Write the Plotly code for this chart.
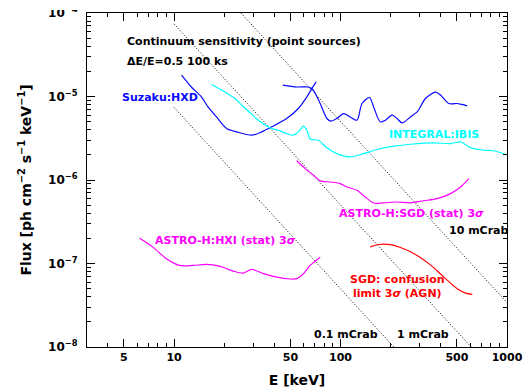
import plotly.graph_objects as go

# ---------------- data ----------------
hxd_pin_e = [11.1, 12.7, 14.6, 16.0, 18.0, 20.7, 23.8, 29.3, 33.6, 38.6, 47.5, 55.8, 62.8, 67.3, 71.4]
hxd_pin_f = [1.80e-5, 1.30e-5, 9.9e-6, 7.5e-6, 5.69e-6, 4.13e-6, 3.77e-6, 3.44e-6, 3.77e-6, 4.33e-6,
             5.45e-6, 7.18e-6, 9.9e-6, 1.25e-5, 1.50e-5]

hxd_gso_e = [45.0, 54.6, 64.2, 68.2, 75.5, 82.8, 87.5, 95.1, 104.3, 114.4, 125.6, 134.6, 149.5, 158.1,
             173.4, 185.9, 204, 218.7, 234.4, 263, 288.5, 323.7, 372, 398.7, 447.3, 502.6, 526, 577]
hxd_gso_f = [1.37e-5, 1.30e-5, 1.30e-5, 1.21e-5, 8.24e-6, 5.45e-6, 5.06e-6, 5.45e-6, 6.25e-6, 5.69e-6,
             5.20e-6, 8.24e-6, 9.72e-6, 7.5e-6, 4.96e-6, 5.20e-6, 5.97e-6, 5.45e-6, 4.82e-6, 5.69e-6,
             6.53e-6, 9.46e-6, 1.13e-5, 1.04e-5, 8.24e-6, 8.24e-6, 8.09e-6, 7.71e-6]

ibis_e = [16.8, 20.2, 23.2, 25.5, 28.6, 32.1, 37.7, 43.3, 47.5, 52.1, 55.8, 59.9, 62.8, 65.7, 73.7,
          82.8, 95.1, 114.4, 137.6, 165.7, 208.6, 263, 363.2, 458, 526, 604, 727, 835, 982]
ibis_f = [1.39e-5, 1.13e-5, 9.46e-6, 7.87e-6, 6.40e-6, 5.20e-6, 4.23e-6, 3.87e-6, 3.60e-6, 3.44e-6,
          3.77e-6, 4.43e-6, 3.95e-6, 3.10e-6, 2.99e-6, 2.43e-6, 2.07e-6, 1.89e-6, 2.07e-6, 2.32e-6,
          2.54e-6, 2.68e-6, 2.78e-6, 2.73e-6, 2.86e-6, 2.44e-6, 2.27e-6, 2.24e-6, 2.02e-6]

sgd_e = [54.6, 61.3, 68.8, 75.5, 86.7, 99.6, 109.3, 125.6, 140.9, 158.1, 181.6, 218.7, 263, 316.2,
         380.8, 458, 526, 590]
sgd_f = [1.70e-6, 1.37e-6, 1.14e-6, 9.77e-7, 9.46e-7, 9.05e-7, 8.24e-7, 7.53e-7, 6.25e-7, 5.30e-7,
         5.33e-7, 5.45e-7, 5.33e-7, 5.64e-7, 5.98e-7, 6.87e-7, 8.24e-7, 1.04e-6]

hxi_e = [6.21, 7.47, 9.0, 10.8, 13.0, 15.7, 18.9, 22.7, 26.0, 29.3, 34.4, 39.5, 47.5, 54.6, 59.9, 65.7, 75.5]
hxi_f = [2.00e-7, 1.57e-7, 1.14e-7, 9.48e-8, 9.48e-8, 9.75e-8, 9.22e-8, 8.11e-8, 7.67e-8, 8.49e-8,
         7.55e-8, 7.00e-8, 6.58e-8, 6.58e-8, 7.55e-8, 9.48e-8, 1.19e-7]

conf_e = [151, 169.4, 199.3, 239.6, 288.5, 347, 417.5, 502.6, 564, 619]
conf_f = [1.58e-7, 1.69e-7, 1.68e-7, 1.50e-7, 1.25e-7, 9.62e-8, 6.87e-8, 4.99e-8, 4.41e-8, 4.27e-8]

crab01_e = [10, 209]
crab01_f = [7.4e-6, 1e-8]
crab1_e = [10, 610]
crab1_f = [7.4e-5, 1e-8]
crab10_e = [25.2, 1000]
crab10_f = [1e-4, 3.4e-8]

x_tickvals = [5, 10, 50, 100, 500, 1000]
x_ticktext = ["5", "10", "50", "100", "500", "1000"]
x_minor = [4, 6, 7, 8, 9, 20, 30, 40, 60, 70, 80, 90, 200, 300, 400, 600, 700, 800, 900]
y_tickvals = [1e-8, 1e-7, 1e-6, 1e-5, 1e-4]
y_ticktext = ["10<sup>\u22128</sup>", "10<sup>\u22127</sup>", "10<sup>\u22126</sup>",
              "10<sup>\u22125</sup>", "10<sup>\u22124</sup>"]
y_minor = [m * 10.0 ** d for d in range(-8, -4) for m in range(2, 10)]

# ---------------- figure ----------------
W, H = 526, 389
ML, MR, MT, MB = 87, 19, 13, 42
PW, PH = W - ML - MR, H - MT - MB
FONT = "DejaVu Sans"

BLUE = "#0a0aff"
CYAN = "#00ffff"
MAG = "#ff00ff"
RED = "#ff0000"


def px(x):
    return (x - ML) / PW


def py(y):
    return (H - MB - y) / PH


fig = go.Figure()

dot = dict(color="black", width=1, dash="1px,2px")
for e, f in [(crab01_e, crab01_f), (crab1_e, crab1_f), (crab10_e, crab10_f)]:
    fig.add_trace(go.Scatter(x=e, y=f, mode="lines", line=dot, hoverinfo="skip"))

curves = [
    (hxd_pin_e, hxd_pin_f, BLUE),
    (hxd_gso_e, hxd_gso_f, BLUE),
    (ibis_e, ibis_f, CYAN),
    (sgd_e, sgd_f, MAG),
    (hxi_e, hxi_f, MAG),
    (conf_e, conf_f, RED),
]
for e, f, c in curves:
    fig.add_trace(go.Scatter(x=e, y=f, mode="lines",
                             line=dict(color=c, width=1.2, shape="spline", smoothing=0.8)))

texts = [
    ("Continuum sensitivity (point sources)", 125, 42, "black", "left"),
    ("\u0394E/E=0.5 100 ks", 125, 61, "black", "left"),
    ("Suzaku:HXD", 120, 97, BLUE, "left"),
    ("INTEGRAL:IBIS", 387, 134, CYAN, "left"),
    ("ASTRO-H:SGD (stat) 3<i>\u03c3</i>", 337, 213, MAG, "left"),
    ("10 mCrab", 447, 231, "black", "left"),
    ("ASTRO-H:HXI (stat) 3<i>\u03c3</i>", 153, 240, MAG, "left"),
    ("SGD: confusion<br>limit 3<i>\u03c3</i> (AGN)", 397, 286, RED, "center"),
    ("0.1 mCrab", 312, 334, "black", "left"),
    ("1 mCrab", 395, 334, "black", "left"),
]
for t, x, y, c, anc in texts:
    fig.add_annotation(text=t, x=px(x), y=py(y), xref="paper", yref="paper",
                       xanchor=anc, yanchor="middle", align="center", showarrow=False,
                       font=dict(family=FONT, size=11, color=c, weight="bold"))

# white mask reproducing the clipped top tick label
fig.add_shape(type="rect", xref="paper", yref="paper", x0=px(0), x1=px(82), y0=py(10), y1=py(-2),
              line=dict(width=0), fillcolor="white", layer="above")

axis_common = dict(showgrid=False, zeroline=False, showline=True, linecolor="black", linewidth=1,
                   mirror="ticks", ticks="inside", ticklen=8, tickwidth=1, tickcolor="black",
                   automargin=False)

fig.update_xaxes(type="log", range=[0.47712, 3.0], tickmode="array", tickvals=x_tickvals,
                 ticktext=x_ticktext, tickfont=dict(family=FONT, size=11, color="black", weight="bold"),
                 minor=dict(tickmode="array", tickvals=x_minor, ticks="inside", ticklen=4,
                            tickcolor="black", tickwidth=1),
                 title=dict(text="E [keV]", font=dict(family=FONT, size=14, color="black", weight="bold"),
                            standoff=11),
                 **axis_common)
fig.update_yaxes(type="log", range=[-8, -4], tickmode="array", tickvals=y_tickvals,
                 ticktext=y_ticktext, tickfont=dict(family=FONT, size=12, color="black", weight="bold"),
                 ticklabelstandoff=6,
                 minor=dict(tickmode="array", tickvals=y_minor, ticks="inside", ticklen=4,
                            tickcolor="black", tickwidth=1),
                 title=dict(text="Flux [ph cm<sup>\u22122</sup> s<sup>\u22121</sup> keV<sup>\u22121</sup>]",
                            font=dict(family=FONT, size=14, color="black", weight="bold"), standoff=13),
                 **axis_common)

fig.update_layout(width=W, height=H, margin=dict(l=ML, r=MR, t=MT, b=MB, pad=0),
                  paper_bgcolor="white", plot_bgcolor="white", showlegend=False,
                  font=dict(family=FONT, color="black"))

fig.write_html("out.html")
